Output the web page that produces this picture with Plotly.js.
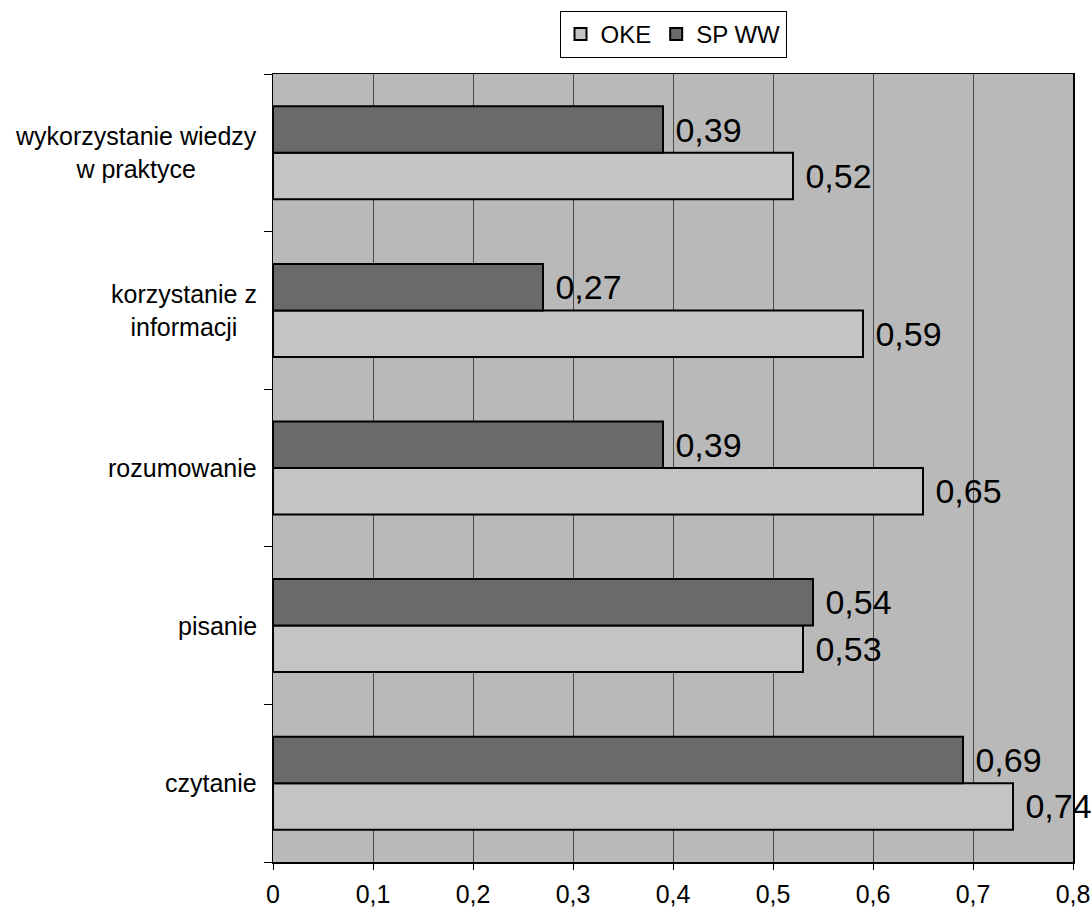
<!DOCTYPE html>
<html><head><meta charset="utf-8">
<script src="https://cdn.plot.ly/plotly-3.0.1.min.js"></script>
<style>html,body{margin:0;padding:0;background:#fff}#chart{width:1092px;height:912px}</style>
</head><body><div id="chart"></div>
<script>
const categories = ["czytanie", "pisanie", "rozumowanie", "korzystanie z<br>informacji", "wykorzystanie wiedzy<br>w praktyce"];
const okeValues = [0.74, 0.53, 0.65, 0.59, 0.52];
const spwwValues = [0.69, 0.54, 0.39, 0.27, 0.39];
const xTickVals = [0, 0.1, 0.2, 0.3, 0.4, 0.5, 0.6, 0.7, 0.8];
const xTickLabels = ["0", "0,1", "0,2", "0,3", "0,4", "0,5", "0,6", "0,7", "0,8"];

const FONT = 'Liberation Sans, Arial, sans-serif';
const common = {
  type: 'bar', orientation: 'h', y: categories,
  textposition: 'outside', texttemplate: ' %{x}',
  textfont: {family: FONT, size: 34, color: '#000'},
  cliponaxis: false, constraintext: 'none'
};
const traces = [
  Object.assign({}, common, {name: 'OKE', x: okeValues,
    marker: {color: '#c4c4c4', line: {color: '#000', width: 2}}}),
  Object.assign({}, common, {name: 'SP WW', x: spwwValues,
    marker: {color: '#6a6a6a', line: {color: '#000', width: 2}}})
];
const annotations = categories.map(c => ({
  xref: 'paper', yref: 'y', x: 0, y: c, xanchor: 'right', yanchor: 'middle',
  xshift: -14, align: 'center', showarrow: false, text: c,
  font: {family: FONT, size: 25, color: '#000'}
}));
const layout = {
  width: 1092, height: 912,
  margin: {l: 273, r: 19, t: 74, b: 50},
  paper_bgcolor: '#fff', plot_bgcolor: '#b9b9b9',
  separators: ', ',
  barmode: 'group', bargap: 0.41, bargroupgap: 0,
  font: {family: FONT, size: 20, color: '#000'},
  showlegend: true,
  legend: {orientation: 'h', xref: 'paper', x: 0.5, xanchor: 'center',
    yref: 'container', y: 0.988, yanchor: 'top',
    bordercolor: '#000', borderwidth: 1, bgcolor: '#fff',
    font: {family: FONT, size: 24}, traceorder: 'normal', itemwidth: 30},
  annotations: annotations,
  xaxis: {range: [0, 0.8], tickmode: 'array', tickvals: xTickVals, ticktext: xTickLabels,
    ticks: 'outside', ticklen: 6, tickcolor: '#000', ticklabelstandoff: 3,
    showgrid: true, gridcolor: '#4a4a4a', gridwidth: 1,
    showline: true, linecolor: '#000', linewidth: 1.5, mirror: true,
    zeroline: false, tickfont: {family: FONT, size: 25}, automargin: false},
  yaxis: {type: 'category', tickson: 'boundaries', ticks: 'outside', ticklen: 8,
    tickcolor: '#000', showline: true, linecolor: '#000', linewidth: 1.5, mirror: true,
    showgrid: false, showticklabels: false, automargin: false}
};
Plotly.newPlot('chart', traces, layout, {displayModeBar: false, staticPlot: true});
</script></body></html>
